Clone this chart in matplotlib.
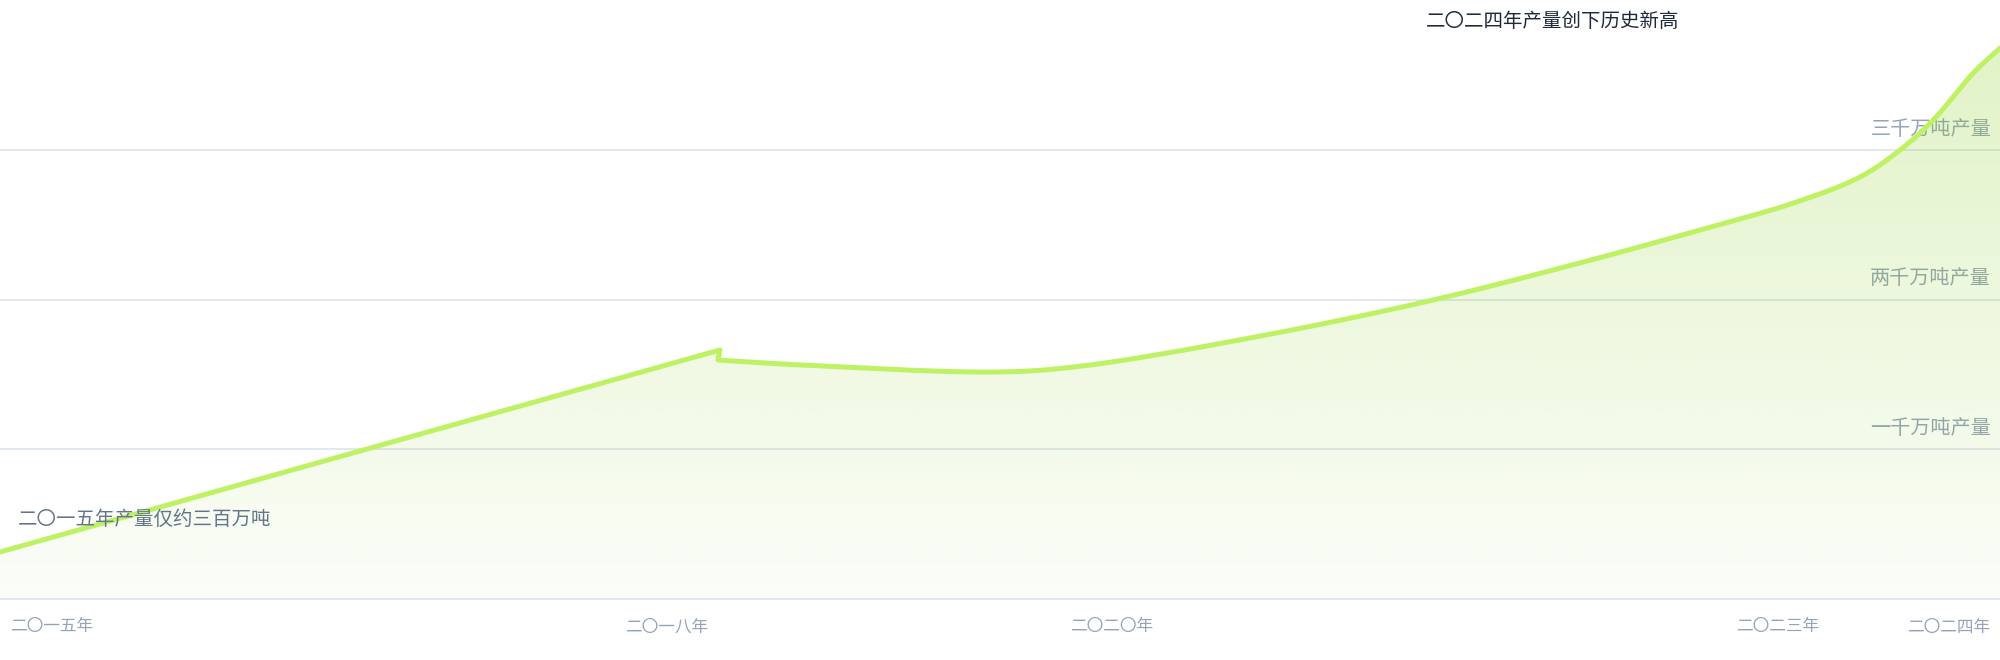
import numpy as np
import matplotlib
matplotlib.use("Agg")
import matplotlib.pyplot as plt
import matplotlib.transforms as mtransforms
from matplotlib.patches import Polygon
from matplotlib.colors import to_rgb

plt.rcParams['font.family'] = ['Noto Sans CJK SC', 'DejaVu Sans']

# data (year, output in 万吨)
years = [2015.00, 2018.240, 2018.231, 2018.60, 2019.50, 2019.87, 2020.65, 2021.45,
         2022.16, 2022.65, 2023.07, 2023.37, 2023.55, 2023.70, 2023.88, 2024.00]
output = [314, 1663, 1596, 1563, 1516, 1556, 1750, 1997,
          2264, 2464, 2644, 2818, 2998, 3199, 3513, 3679]

tick_years = [2015, 2018, 2020, 2023, 2024]
tick_labels = ['二〇一五年', '二〇一八年', '二〇二〇年', '二〇二三年', '二〇二四年']

grid_values = [1000, 2000, 3000]
grid_labels = ['一千万吨产量', '两千万吨产量', '三千万吨产量']

title_text = '二〇二四年产量创下历史新高'
start_text = '二〇一五年产量仅约三百万吨'

X0, X1 = 2015, 2024
Y0, Y1 = 0, 4000


def catmull_rom(px, py, n=40, alpha=0.5):
    # centripetal Catmull-Rom through the given points
    pts = np.column_stack([px, py]).astype(float)
    P = np.vstack([2 * pts[0] - pts[1], pts, 2 * pts[-1] - pts[-2]])
    out = []
    for i in range(len(P) - 3):
        p0, p1, p2, p3 = P[i:i + 4]
        t0 = 0.0
        t1 = t0 + np.linalg.norm(p1 - p0) ** alpha
        t2 = t1 + np.linalg.norm(p2 - p1) ** alpha
        t3 = t2 + np.linalg.norm(p3 - p2) ** alpha
        t = np.linspace(t1, t2, n)[:, None]
        a1 = (t1 - t) / (t1 - t0) * p0 + (t - t0) / (t1 - t0) * p1
        a2 = (t2 - t) / (t2 - t1) * p1 + (t - t1) / (t2 - t1) * p2
        a3 = (t3 - t) / (t3 - t2) * p2 + (t - t2) / (t3 - t2) * p3
        b1 = (t2 - t) / (t2 - t0) * a1 + (t - t0) / (t2 - t0) * a2
        b2 = (t3 - t) / (t3 - t1) * a2 + (t - t1) / (t3 - t1) * a3
        c = (t2 - t) / (t2 - t1) * b1 + (t - t1) / (t2 - t1) * b2
        out.append(c if i == 0 else c[1:])
    return np.vstack(out)


# smooth in a pixel-like space so the curve shape is not distorted
yr = np.array(years)
val = np.array(output, dtype=float)
sx = (yr - X0) / (X1 - X0) * 2000
sy = (val - Y0) / (Y1 - Y0) * 599
smooth = catmull_rom(sx[2:], sy[2:])
cx = np.concatenate([yr[:2], smooth[:, 0] / 2000 * (X1 - X0) + X0])
cy = np.concatenate([val[:2], smooth[:, 1] / 599 * (Y1 - Y0) + Y0])

fig = plt.figure(figsize=(20, 6.6), dpi=100)
ax = fig.add_axes([0, 61 / 660, 1, 599 / 660])
for s in ax.spines.values():
    s.set_visible(False)
ax.set_yticks([])

# grid lines + baseline
for v in grid_values + [0]:
    ax.axhline(v, color='#e2e8f0', lw=1.4, zorder=0, clip_on=False)

lab_trans = mtransforms.offset_copy(
    mtransforms.blended_transform_factory(ax.transAxes, ax.transData),
    fig=fig, x=-9, y=10, units='dots')
for v, lab in zip(grid_values, grid_labels):
    ax.text(1.0, v, lab, transform=lab_trans, ha='right', va='bottom',
            fontsize=14.5, color='#94a3b8', zorder=1)

# gradient area under the line
verts = np.column_stack([np.concatenate([cx, [X1, X0]]),
                         np.concatenate([cy, [Y0, Y0]])])
area = Polygon(verts, closed=True, facecolor='none', edgecolor='none')
ax.add_patch(area)
grad = np.zeros((256, 1, 4))
grad[..., :3] = to_rgb('#84cc16')
grad[..., 3] = np.linspace(0.03, 0.24, 256)[:, None]
im = ax.imshow(grad, extent=(X0, X1, Y0, max(output)), origin='lower',
               aspect='auto', interpolation='bilinear', zorder=2)
im.set_clip_path(area)

ax.plot(cx, cy, color='#bef264', lw=3.6, solid_capstyle='round',
        solid_joinstyle='round', zorder=3)

ax.set_xlim(X0, X1)
ax.set_ylim(Y0, Y1)

ax.set_xticks(tick_years, tick_labels)
ax.tick_params(axis='x', length=0, pad=14, labelsize=12, labelcolor='#94a3b8')
xl = ax.get_xticklabels()
xl[0].set_ha('left')
xl[0].set_transform(xl[0].get_transform() + mtransforms.ScaledTranslation(10 / 100, 0, fig.dpi_scale_trans))
xl[-1].set_ha('right')
xl[-1].set_transform(xl[-1].get_transform() + mtransforms.ScaledTranslation(-10 / 100, 0, fig.dpi_scale_trans))

# notes on the first and last point
ax.annotate(start_text, xy=(years[0], output[0]), xytext=(18, 32),
            textcoords='offset pixels', ha='left', va='center',
            fontsize=14, color='#64748b', zorder=4)
ax.annotate(title_text, xy=(years[-1], output[-1]), xytext=(-321, 27),
            textcoords='offset pixels', ha='right', va='center',
            fontsize=14, color='#1e293b', zorder=4, annotation_clip=False)

fig.savefig('out.png', dpi=100)
